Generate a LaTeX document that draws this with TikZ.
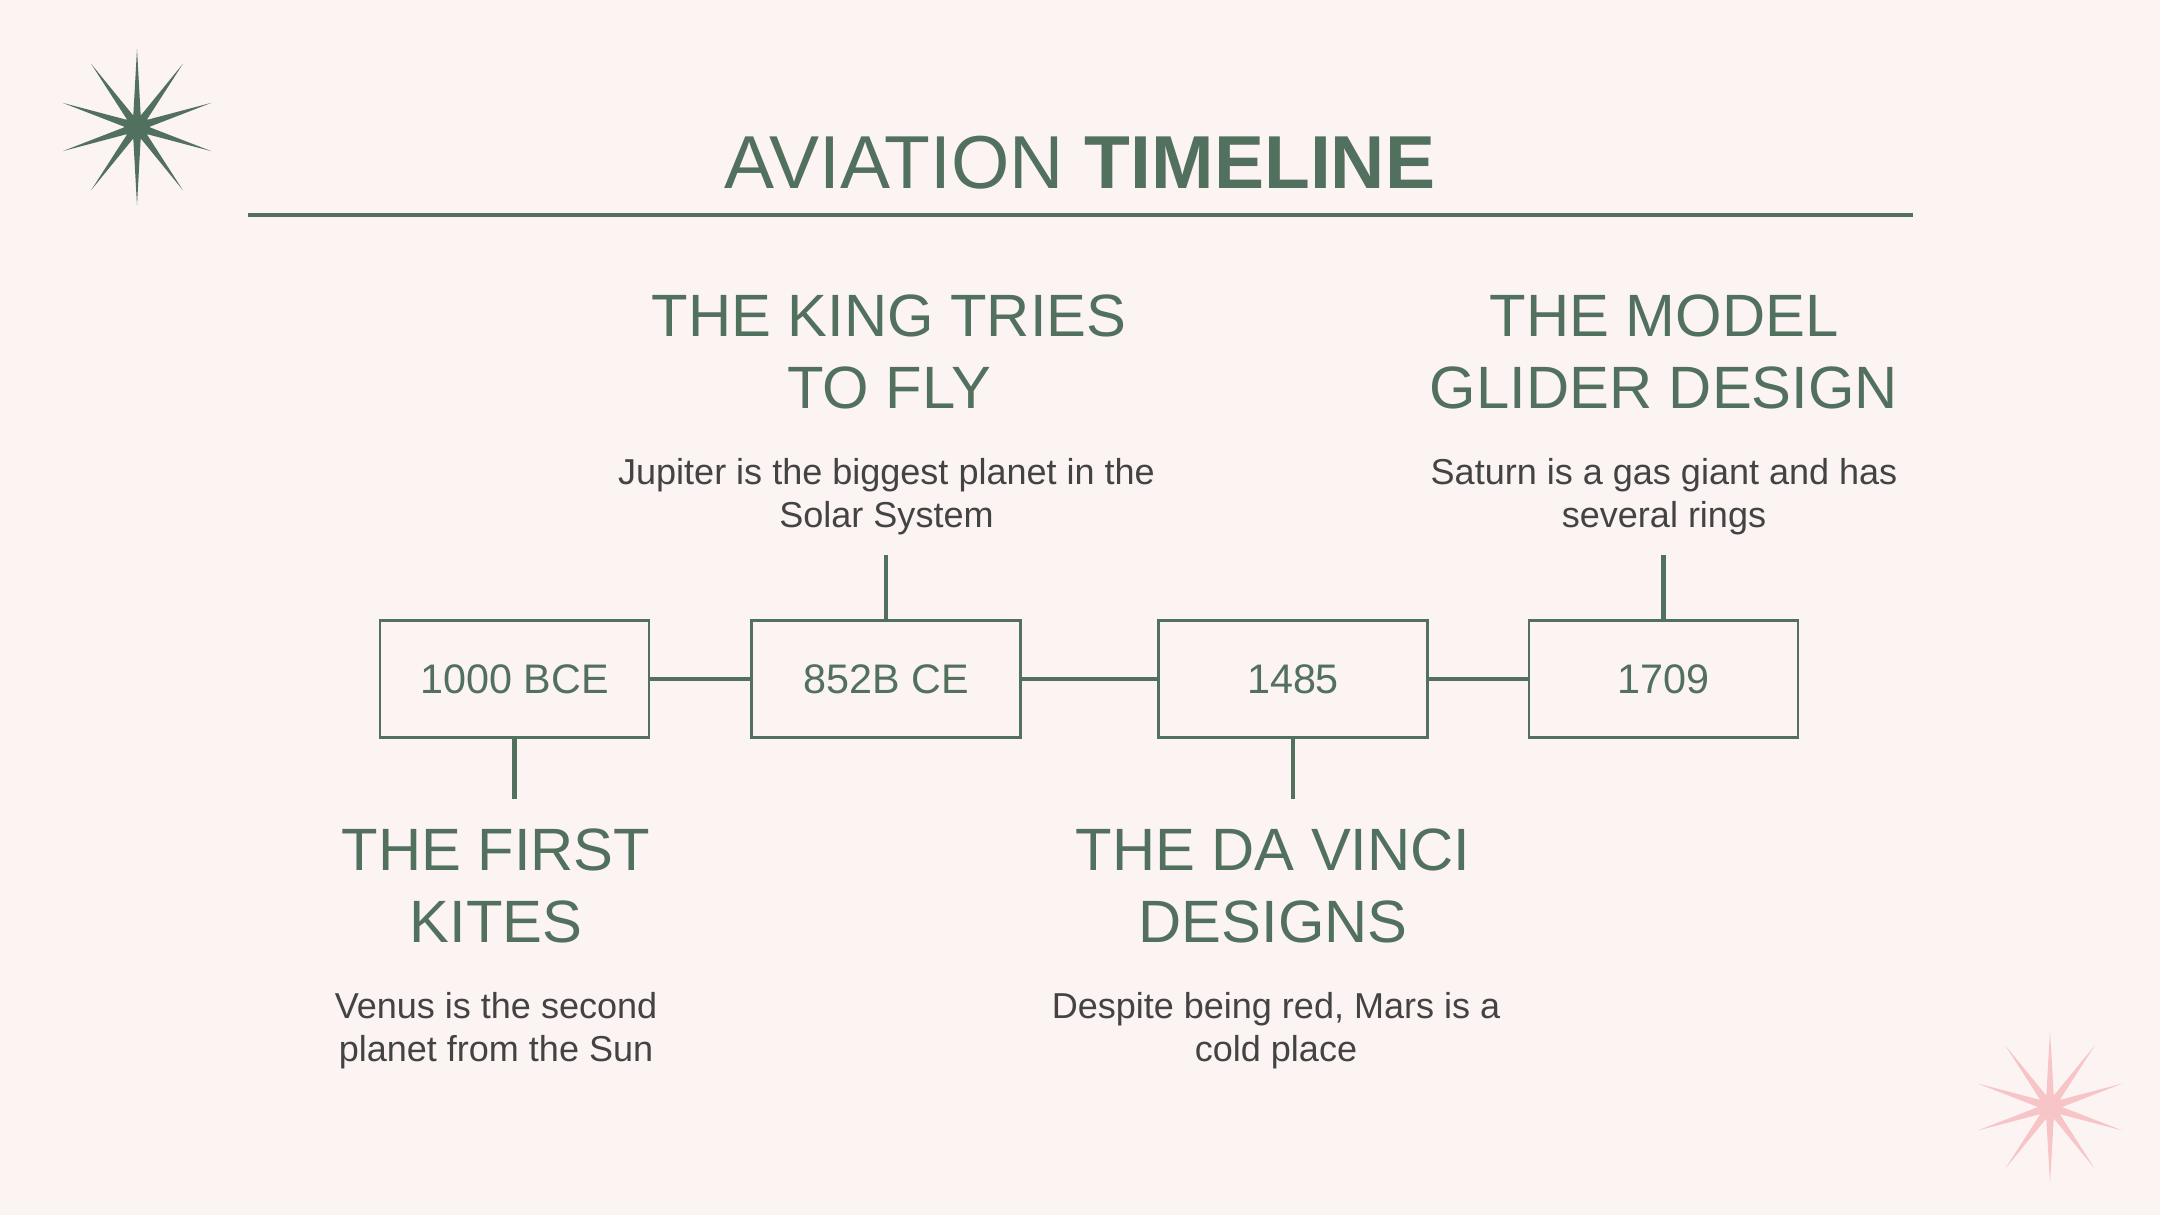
\documentclass[tikz,border=0pt]{standalone}
\usepackage{fontspec}
\setmainfont{Liberation Sans}
\usetikzlibrary{positioning}
\definecolor{sage}{HTML}{52705E}
\definecolor{ink}{HTML}{434343}
\definecolor{blush}{HTML}{F7C4C7}
\definecolor{paper}{HTML}{FCF3F3}
\newcommand{\sparkle}[3]{%
  \fill[#3,shift={(#1)}] plot[samples at={0,...,19},variable=\k]
    ({90+18*\k}:{ifthenelse(mod(\k,2)==0,#2,0.12)}) -- cycle;
  \fill[#3,shift={(#1)}] (0,0) circle (0.13);}

\begin{document}
\begin{tikzpicture}[font=\fontsize{10.25pt}{12.3pt}\selectfont,
  yearbox/.style={draw=sage,line width=0.6pt,minimum width=2.69cm,minimum height=1.17cm,
    text=sage,font=\fontsize{11.75pt}{14pt}\selectfont},
  head/.style={text=sage,align=center,inner sep=0pt,font=\fontsize{17pt}{20.5pt}\selectfont},
  blurb/.style={text=ink,align=center,inner sep=0pt,font=\fontsize{10.25pt}{12.3pt}\selectfont},
  link/.style={sage,line width=1.4pt}]
  \fill[paper] (0,0) rectangle (21.6,-12.15);
  \useasboundingbox (0,0) rectangle (21.6,-12.15);
  % stars
  \sparkle{1.37,-1.27}{0.78}{sage}
  \sparkle{20.5,-11.07}{0.76}{blush}
  % title
  \node[text=sage,inner sep=0pt,font=\fontsize{21.35pt}{25pt}\selectfont] (title) at (10.8,-1.63)
        {AVIATION \textbf{TIMELINE}};
  \coordinate (ruleL) at (2.48,-2.15);
  \coordinate (ruleR) at (19.13,-2.15);
  \draw[sage,line width=1.3pt] (ruleL) -- (ruleR);
  % years
  \node[yearbox] (y1000) at (5.145,-6.79) {1000 BCE};
  \node[yearbox] (y852) at (8.86,-6.79) {852B CE};
  \node[yearbox] (y1485) at (12.93,-6.79) {1485};
  \node[yearbox] (y1709) at (16.635,-6.79) {1709};
  \draw[link] (y1000) -- (y852);
  \draw[link] (y852) -- (y1485);
  \draw[link] (y1485) -- (y1709);
  \coordinate (kitesTip) at (5.145,-7.99);
  \coordinate (kingTip) at (8.86,-5.55);
  \coordinate (vinciTip) at (12.93,-7.99);
  \coordinate (gliderTip) at (16.635,-5.55);
  \draw[link] (y1000.south) -- (kitesTip);
  \draw[link] (y852.north) -- (kingTip);
  \draw[link] (y1485.south) -- (vinciTip);
  \draw[link] (y1709.north) -- (gliderTip);
  % events
  \node[head] (kites) at (4.96,-8.86) {THE FIRST\\KITES};
  \node[blurb] (kitesTxt) at (4.96,-10.31) {Venus is the second\\planet from the Sun};
  \node[head] (king) at (8.89,-3.515) {THE KING TRIES\\TO FLY};
  \node[blurb] (kingTxt) at (8.865,-4.97) {Jupiter is the biggest planet in the\\Solar System};
  \node[head] (vinci) at (12.73,-8.86) {THE DA VINCI\\DESIGNS};
  \node[blurb] (vinciTxt) at (12.76,-10.31) {Despite being red, Mars is a\\cold place};
  \node[head] (glider) at (16.64,-3.515) {THE MODEL\\GLIDER DESIGN};
  \node[blurb] (gliderTxt) at (16.64,-4.97) {Saturn is a gas giant and has\\several rings};
\end{tikzpicture}
\end{document}
